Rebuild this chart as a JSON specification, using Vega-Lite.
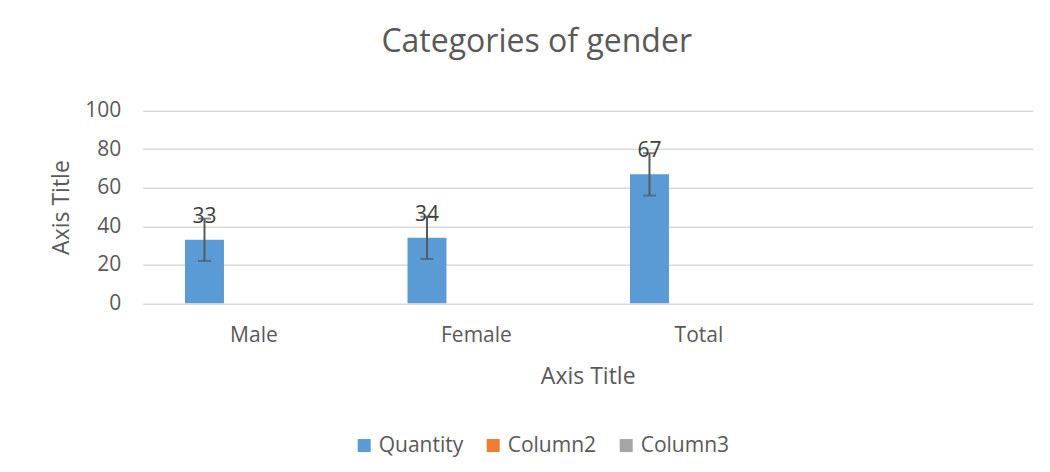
{
  "$schema": "https://vega.github.io/schema/vega-lite/v6.json",
  "width": 890,
  "height": 192.5,
  "autosize": {"type": "none"},
  "padding": {"left": 142.7, "top": 110.8, "right": 17.3, "bottom": 168.7},
  "background": "white",
  "title": {
    "text": "Categories of gender",
    "font": "Open Sans",
    "fontSize": 32,
    "fontWeight": "normal",
    "color": "#595959",
    "anchor": "middle",
    "frame": "group",
    "baseline": "alphabetic",
    "offset": 16,
    "dx": -51
  },
  "data": {
    "values": [
      {"category": "Male", "series": "Quantity", "value": 33, "lo": 22, "hi": 44},
      {"category": "Female", "series": "Quantity", "value": 34, "lo": 23, "hi": 45},
      {"category": "Total", "series": "Quantity", "value": 67, "lo": 56, "hi": 78},
      {"category": "Male", "series": "Column2", "value": 0},
      {"category": "Female", "series": "Column2", "value": 0},
      {"category": "Total", "series": "Column2", "value": 0},
      {"category": "Male", "series": "Column3", "value": 0},
      {"category": "Female", "series": "Column3", "value": 0},
      {"category": "Total", "series": "Column3", "value": 0}
    ]
  },
  "encoding": {
    "x": {
      "field": "category",
      "type": "nominal",
      "sort": null,
      "scale": {"domain": ["Male", "Female", "Total", " "], "paddingInner": 0, "paddingOuter": 0},
      "axis": {
        "title": "Axis Title",
        "labelAngle": 0,
        "labelFont": "Open Sans",
        "labelFontSize": 21,
        "labelColor": "#595959",
        "labelPadding": 21,
        "ticks": false,
        "domain": false,
        "grid": false,
        "titleFont": "Open Sans",
        "titleFontSize": 23,
        "titleFontWeight": "normal",
        "titleColor": "#595959",
        "titlePadding": 20
      }
    },
    "xOffset": {
      "field": "series",
      "type": "nominal",
      "scale": {"domain": ["Quantity", "Column2", "Column3"], "paddingInner": 0.212, "paddingOuter": 0.855}
    }
  },
  "layer": [
    {
      "mark": {"type": "bar"},
      "encoding": {
        "y": {
          "field": "value",
          "type": "quantitative",
          "scale": {"domain": [0, 100], "nice": false},
          "axis": {"title": "Axis Title", "values": [0, 20, 40, 60, 80, 100]}
        },
        "color": {
          "field": "series",
          "type": "nominal",
          "scale": {"domain": ["Quantity", "Column2", "Column3"], "range": ["#5B9BD5", "#ED7D31", "#A5A5A5"]},
          "legend": {
            "title": null,
            "orient": "none",
            "direction": "horizontal",
            "legendX": 211,
            "legendY": 324,
            "symbolType": "square",
            "symbolSize": 169,
            "symbolStrokeWidth": 0,
            "labelFont": "Open Sans",
            "labelFontSize": 21,
            "labelColor": "#595959",
            "labelOffset": 4,
            "columnPadding": 19
          }
        }
      }
    },
    {
      "transform": [{"filter": "datum.series === 'Quantity'"}],
      "mark": {"type": "rule", "color": "#595959", "strokeWidth": 2},
      "encoding": {
        "y": {"field": "lo", "type": "quantitative", "axis": {"title": "Axis Title", "values": [0, 20, 40, 60, 80, 100]}},
        "y2": {"field": "hi"}
      }
    },
    {
      "transform": [{"filter": "datum.series === 'Quantity'"}],
      "mark": {"type": "tick", "color": "#595959", "thickness": 2, "size": 13, "orient": "horizontal"},
      "encoding": {
        "y": {"field": "lo", "type": "quantitative", "axis": {"title": "Axis Title", "values": [0, 20, 40, 60, 80, 100]}}
      }
    },
    {
      "transform": [{"filter": "datum.series === 'Quantity'"}],
      "mark": {"type": "tick", "color": "#595959", "thickness": 2, "size": 13, "orient": "horizontal"},
      "encoding": {
        "y": {"field": "hi", "type": "quantitative", "axis": {"title": "Axis Title", "values": [0, 20, 40, 60, 80, 100]}}
      }
    },
    {
      "transform": [{"filter": "datum.series === 'Quantity'"}],
      "mark": {"type": "text", "font": "Open Sans", "fontSize": 21, "color": "#404040", "baseline": "alphabetic", "dy": -17},
      "encoding": {
        "y": {"field": "value", "type": "quantitative", "axis": {"title": "Axis Title", "values": [0, 20, 40, 60, 80, 100]}},
        "text": {"field": "value", "type": "quantitative"}
      }
    }
  ],
  "config": {
    "view": {"stroke": null},
    "axisY": {
      "labelOverlap": false,
      "labelFont": "Open Sans",
      "labelFontSize": 21,
      "labelColor": "#595959",
      "labelPadding": 22,
      "ticks": false,
      "domain": false,
      "grid": true,
      "gridColor": "#D9D9D9",
      "gridWidth": 1.5,
      "titleFont": "Open Sans",
      "titleFontSize": 23,
      "titleFontWeight": "normal",
      "titleColor": "#595959",
      "titlePadding": 11
    }
  }
}
